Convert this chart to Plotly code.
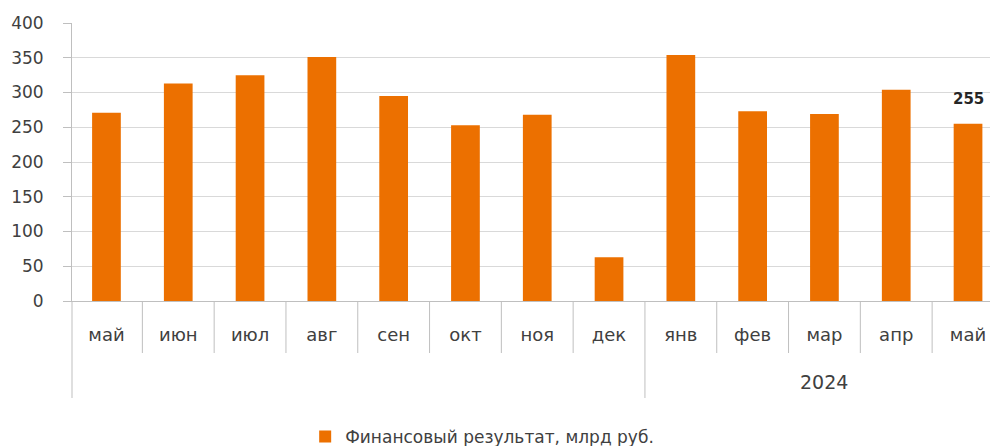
import plotly.graph_objects as go

months = ["май", "июн", "июл", "авг", "сен", "окт", "ноя", "дек",
          "янв", "фев", "мар", "апр", "май"]
values = [271, 313, 325, 351, 295, 253, 268, 63, 354, 273, 269, 304, 255]
year_label = "2024"
year_group_start = 8          # index of first month of 2024
series_name = "Финансовый результат, млрд руб."
y_ticks = [0, 50, 100, 150, 200, 250, 300, 350, 400]

BAR = "#EC7000"
TXT = "#404040"
GRID = "#d9d9d9"
AX = "#bfbfbf"
FONT = "DejaVu Sans"

xs = list(range(len(months)))

fig = go.Figure()
fig.add_trace(go.Bar(
    x=xs, y=values, name=series_name, width=0.40,
    marker=dict(color=BAR, line=dict(width=0)),
    showlegend=True,
))

# bold data label for last bar
fig.add_annotation(
    x=xs[-1], y=values[-1], text="<b>%d</b>" % values[-1],
    showarrow=False, yanchor="bottom", yshift=14,
    font=dict(family=FONT, size=15, color="#262626"),
)

# year group label
grp_center = (year_group_start - 0.5 + len(months) - 0.5) / 2.0
fig.add_annotation(
    x=grp_center, y=-0.29, yref="paper", text=year_label,
    showarrow=False, yanchor="middle",
    font=dict(family=FONT, size=19, color=TXT),
)

# separators
short_y = -(353 - 301) / 278
long_y = -(398 - 301) / 278
shapes = []
for k in range(len(months) - 1):
    b = k + 0.5
    y1 = long_y if k + 1 == year_group_start else short_y
    shapes.append(dict(type="line", xref="x", yref="paper", x0=b, x1=b,
                       y0=0, y1=y1, line=dict(color=AX, width=1)))
shapes.append(dict(type="line", xref="paper", yref="paper", x0=0, x1=0,
                   y0=0, y1=long_y, line=dict(color=AX, width=1)))
# top gridline stops short on the right in the original
shapes.append(dict(type="line", xref="paper", yref="y", x0=0.79, x1=1.0,
                   y0=400, y1=400, line=dict(color="white", width=3),
                   layer="above"))

fig.update_layout(
    width=990, height=446,
    margin=dict(l=72, r=0, t=23, b=145, autoexpand=False),
    paper_bgcolor="white", plot_bgcolor="white",
    font=dict(family=FONT, size=14, color=TXT),
    shapes=shapes,
    legend=dict(orientation="h", x=0.254, xanchor="left",
                y=-0.489, yanchor="middle",
                font=dict(family=FONT, size=17, color=TXT)),
    xaxis=dict(
        range=[-0.48, 12.306], tickmode="array", tickvals=xs,
        ticktext=months, showline=True, linecolor=AX, linewidth=1,
        ticks="", showgrid=False, zeroline=False, automargin=False,
        ticklabelstandoff=17, tickfont=dict(family=FONT, size=18, color=TXT),
        fixedrange=True,
    ),
    yaxis=dict(
        range=[0, 400], tickmode="array", tickvals=y_ticks,
        showline=True, linecolor=AX, linewidth=1,
        ticks="outside", ticklen=8, tickcolor=AX, automargin=False,
        showgrid=True, gridcolor=GRID, gridwidth=1, zeroline=False,
        ticklabelstandoff=16, tickfont=dict(family=FONT, size=17, color=TXT),
        fixedrange=True,
    ),
)

fig.write_html(
    "out.html",
    config={"displayModeBar": False},
    post_script="document.body.style.margin='0';"
                "document.documentElement.style.overflow='hidden';",
)
